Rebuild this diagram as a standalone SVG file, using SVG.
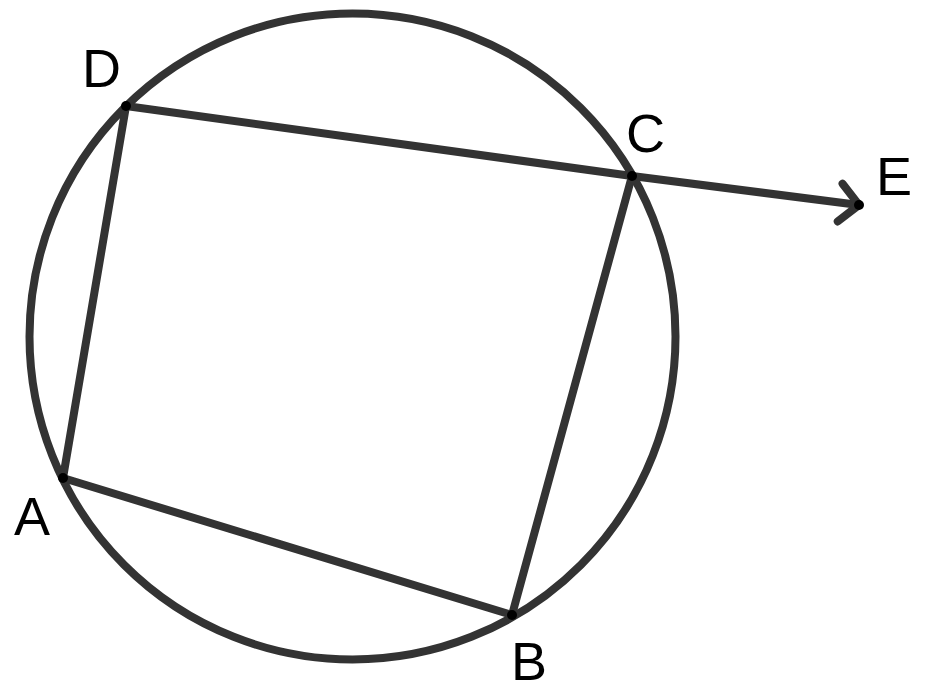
<svg xmlns="http://www.w3.org/2000/svg" width="925" height="695" viewBox="0 0 925 695">
<style>
.ln{fill:none;stroke:#333333;stroke-width:8;stroke-linecap:round;stroke-linejoin:round}
.pt{fill:#000000}
.lb{font-family:"Liberation Sans",Arial,sans-serif;font-size:54px;fill:#000000}
</style>
<defs>
<marker id="arr" markerUnits="userSpaceOnUse" markerWidth="50" markerHeight="50" viewBox="-25 -25 50 50" refX="0" refY="0" orient="auto" overflow="visible">
<path d="M -19 -19 L 0 0 L -19 19" fill="none" stroke="#333333" stroke-width="8" stroke-linecap="round" stroke-linejoin="round"/>
</marker>
</defs>
<rect width="925" height="695" fill="#ffffff"/>
<g id="circle">
<circle cx="352.5" cy="336.5" r="323" class="ln"/>
</g>
<g id="connectors">
<line x1="126" y1="106" x2="632" y2="176" class="ln"/>
<line x1="632" y1="176" x2="512" y2="615" class="ln"/>
<line x1="512" y1="615" x2="63" y2="478" class="ln"/>
<line x1="63" y1="478" x2="126" y2="106" class="ln"/>
<line x1="632" y1="176" x2="859" y2="205" class="ln" marker-end="url(#arr)"/>
</g>
<g id="D"><circle cx="126" cy="106" r="5" class="pt"/><text x="82" y="87" class="lb">D</text></g>
<g id="C"><circle cx="632" cy="176" r="5" class="pt"/><text x="626" y="152" class="lb">C</text></g>
<g id="B"><circle cx="512" cy="615" r="5" class="pt"/><text x="511" y="680" class="lb">B</text></g>
<g id="A"><circle cx="63" cy="478" r="5" class="pt"/><text x="14" y="535" class="lb">A</text></g>
<g id="E"><circle cx="859" cy="205" r="5" class="pt"/><text x="876" y="195" class="lb">E</text></g>
</svg>
